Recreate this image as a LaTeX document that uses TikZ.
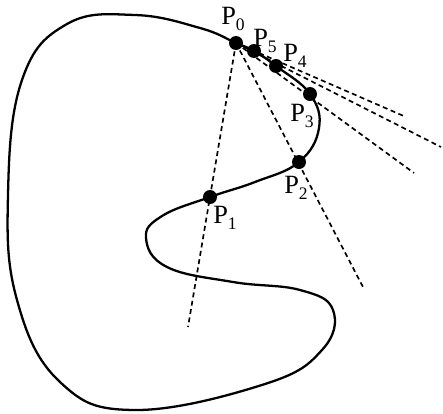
\documentclass[tikz,border=0pt]{standalone}
\usepackage{fontspec}
\setmainfont{Liberation Serif}
\tikzset{
  pdot/.style={circle,fill=black,inner sep=0pt,minimum size=0.28cm},
  plab/.style={inner sep=0pt,font=\fontsize{15}{17}\selectfont},
  ray/.style={line width=0.95pt,dash pattern=on 2.8pt off 2pt},
  contour/.style={line width=1.3pt}
}
\newcommand{\pname}[1]{P\raisebox{-0.55ex}{\fontsize{10}{10}\selectfont #1}}
\begin{document}
\begin{tikzpicture}[x=0.02cm,y=-0.02cm]
  \useasboundingbox (0,0) rectangle (443,413);
  % Define point positions
  \coordinate (P0) at (236,43); \coordinate (P5) at (254,51);
  \coordinate (P4) at (276,66); \coordinate (P3) at (310,94);
  \coordinate (P2) at (299,162); \coordinate (P1) at (210,197);
  % Free ends of the rays
  \coordinate (e1) at (188,327); \coordinate (e2) at (363,287);
  \coordinate (e3) at (414,173); \coordinate (e4) at (441,147);
  \coordinate (e5) at (406,117);

  % Closed curve
  \draw[contour] plot[smooth cycle,tension=0.7] coordinates {
    (P0) (P5) (P4) (P3) (319,128) (P2) (255,182) (P1) (162,216)
    (146,238) (167,267) (233,282) (300,290) (333,310) (322,350)
    (265,384) (135,410) (60,382) (17,300) (8,195) (22,80) (67,24)
    (135,15) (200,28)};

  % Dashed rays from P0
  \foreach \i in {1,...,5} \draw[ray] (P0) -- (e\i);

  % Points and labels
  \foreach \i in {0,...,5} \node[pdot] (d\i) at (P\i) {};
  \node[plab] (l0) at (233,19) {\pname{0}};
  \node[plab] (l5) at (265,41) {\pname{5}};
  \node[plab] (l4) at (295,56) {\pname{4}};
  \node[plab] (l3) at (302,116) {\pname{3}};
  \node[plab] (l2) at (296,188) {\pname{2}};
  \node[plab] (l1) at (225,218) {\pname{1}};
\end{tikzpicture}
\end{document}
